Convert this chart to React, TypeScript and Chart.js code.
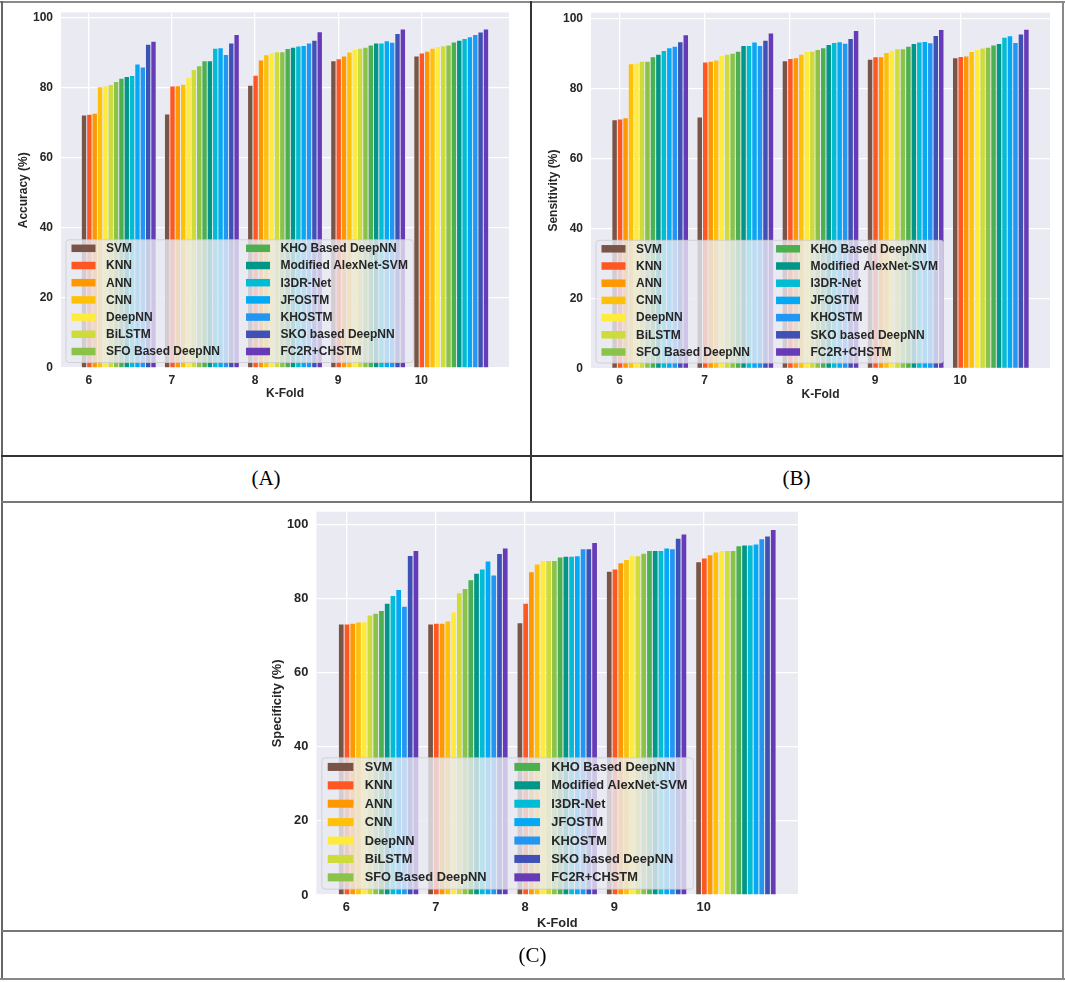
import React, { useEffect, useRef } from "react";
import { Chart, registerables } from "chart.js";

Chart.register(...registerables);

// ---------------- data ----------------
const FOLDS = [6, 7, 8, 9, 10];
const Y_TICKS = [0, 20, 40, 60, 80, 100];

const METHODS = [
  "SVM",
  "KNN",
  "ANN",
  "CNN",
  "DeepNN",
  "BiLSTM",
  "SFO Based DeepNN",
  "KHO Based DeepNN",
  "Modified AlexNet-SVM",
  "I3DR-Net",
  "JFOSTM",
  "KHOSTM",
  "SKO based DeepNN",
  "FC2R+CHSTM",
];

const COLORS = [
  "#795548",
  "#FF5722",
  "#FF9800",
  "#FFC107",
  "#FFEB3B",
  "#CDDC39",
  "#8BC34A",
  "#4CAF50",
  "#009688",
  "#00BCD4",
  "#03A9F4",
  "#2196F3",
  "#3F51B5",
  "#673AB7",
];

// Accuracy (%) per K-fold, one value per method (same order as METHODS)
const ACC_6 = [72.1, 72.3, 72.6, 80.2, 80.4, 80.8, 81.7, 82.6, 83.1, 83.4, 86.7, 85.8, 92.3, 93.2];
const ACC_7 = [72.4, 80.4, 80.5, 80.9, 82.8, 85.1, 86.2, 87.6, 87.6, 91.2, 91.3, 89.4, 92.7, 95.1];
const ACC_8 = [80.6, 83.5, 87.8, 89.3, 89.9, 90.2, 90.2, 91.1, 91.5, 91.8, 92.0, 92.7, 93.5, 95.9];
const ACC_9 = [87.6, 88.2, 89.0, 90.1, 90.9, 91.2, 91.5, 92.1, 92.7, 92.7, 93.3, 92.9, 95.4, 96.7];
const ACC_10 = [89.0, 89.8, 90.3, 91.2, 91.7, 91.9, 92.1, 93.0, 93.5, 94.0, 94.5, 95.1, 95.8, 96.7];

// Sensitivity (%)
const SEN_6 = [70.9, 71.1, 71.5, 86.9, 87.1, 87.6, 87.6, 88.9, 89.6, 90.7, 91.5, 91.9, 93.2, 95.2];
const SEN_7 = [71.7, 87.4, 87.6, 88.0, 89.3, 89.6, 89.9, 90.5, 92.1, 92.1, 93.1, 92.1, 93.6, 95.7];
const SEN_8 = [87.8, 88.4, 88.6, 89.6, 90.4, 90.5, 91.0, 91.5, 92.4, 93.0, 93.2, 92.8, 94.1, 96.4];
const SEN_9 = [88.2, 88.9, 88.9, 90.1, 90.8, 91.2, 91.2, 91.9, 92.7, 93.1, 93.3, 92.9, 95.0, 96.7];
const SEN_10 = [88.6, 89.0, 89.1, 90.4, 91.0, 91.4, 91.6, 92.3, 92.7, 94.5, 94.9, 93.0, 95.4, 96.8];

// Specificity (%)
const SPE_6 = [73.0, 73.0, 73.2, 73.5, 73.6, 75.4, 75.9, 76.6, 78.6, 80.7, 82.3, 77.8, 91.5, 92.8];
const SPE_7 = [73.0, 73.2, 73.2, 73.8, 76.3, 81.4, 82.6, 84.9, 86.7, 87.8, 90.0, 86.2, 92.0, 93.5];
const SPE_8 = [73.3, 78.6, 87.1, 89.2, 90.1, 90.1, 90.1, 91.1, 91.3, 91.3, 91.4, 93.3, 93.3, 95.0];
const SPE_9 = [87.2, 87.8, 89.5, 90.4, 91.4, 91.4, 92.1, 92.8, 92.8, 92.8, 93.5, 93.3, 96.1, 97.3];
const SPE_10 = [89.8, 90.8, 91.7, 92.4, 92.8, 92.8, 92.8, 94.1, 94.3, 94.3, 94.6, 96.0, 96.7, 98.5];

const ACCURACY = [ACC_6, ACC_7, ACC_8, ACC_9, ACC_10];
const SENSITIVITY = [SEN_6, SEN_7, SEN_8, SEN_9, SEN_10];
const SPECIFICITY = [SPE_6, SPE_7, SPE_8, SPE_9, SPE_10];

// ---------------- style ----------------
const FONT_FAMILY = '"Liberation Sans", Arial, Helvetica, sans-serif';
const TEXT_COLOR = "#262626";
const PLOT_BG = "#EAEAF2";
const GROUP_SHIFT = 0.36; // bar groups start just left of each fold tick
const X_MIN = 5.665;
const X_MAX = 11.055;

const plotBg = {
  id: "plotBg",
  beforeDraw(chart: any) {
    const { ctx, chartArea } = chart;
    ctx.save();
    ctx.fillStyle = PLOT_BG;
    ctx.fillRect(chartArea.left, chartArea.top, chartArea.right - chartArea.left, chartArea.bottom - chartArea.top);
    ctx.restore();
  },
};

function roundRectPath(ctx: CanvasRenderingContext2D, x: number, y: number, w: number, h: number, r: number) {
  ctx.beginPath();
  ctx.moveTo(x + r, y);
  ctx.lineTo(x + w - r, y);
  ctx.arcTo(x + w, y, x + w, y + r, r);
  ctx.lineTo(x + w, y + h - r);
  ctx.arcTo(x + w, y + h, x + w - r, y + h, r);
  ctx.lineTo(x + r, y + h);
  ctx.arcTo(x, y + h, x, y + h - r, r);
  ctx.lineTo(x, y + r);
  ctx.arcTo(x, y, x + r, y, r);
  ctx.closePath();
}

const innerLegend = {
  id: "innerLegend",
  afterDatasetsDraw(chart: any, _args: any, opts: any) {
    const s = opts.scale || 1;
    const { ctx, chartArea } = chart;
    const ds = chart.data.datasets;
    const rows = 7;
    const cols = Math.ceil(ds.length / rows);
    const fontSize = 12 * s;
    const handleW = 24 * s;
    const handleH = 7.5 * s;
    const padL = 5.5 * s;
    const padR = 5.5 * s;
    const textGap = 10.5 * s;
    const colGap = 26 * s;
    const pitch = 17.2 * s;
    const padTop = 8.5 * s;
    const padBottom = 11 * s;
    ctx.save();
    ctx.font = `bold ${fontSize}px ${FONT_FAMILY}`;
    const colW: number[] = [];
    for (let c = 0; c < cols; c++) {
      let w = 0;
      for (let r = 0; r < rows; r++) {
        const i = c * rows + r;
        if (i < ds.length) w = Math.max(w, ctx.measureText(String(ds[i].label)).width);
      }
      colW.push(w);
    }
    const boxW = padL + colW.reduce((a, w) => a + handleW + textGap + w, 0) + colGap * (cols - 1) + padR;
    const boxH = padTop + pitch * (rows - 1) + padBottom;
    const x0 = chartArea.left + 5 * s;
    const y0 = chartArea.bottom - 5.5 * s - boxH;
    roundRectPath(ctx, x0, y0, boxW, boxH, 3 * s);
    ctx.fillStyle = "rgba(234,234,242,0.8)";
    ctx.fill();
    ctx.strokeStyle = "rgba(204,204,204,0.8)";
    ctx.lineWidth = 1;
    ctx.stroke();
    ctx.textBaseline = "middle";
    ctx.textAlign = "left";
    let colX = x0 + padL;
    for (let c = 0; c < cols; c++) {
      for (let r = 0; r < rows; r++) {
        const i = c * rows + r;
        if (i >= ds.length) continue;
        const cy = y0 + padTop + r * pitch;
        ctx.fillStyle = ds[i].backgroundColor;
        ctx.fillRect(colX, cy - handleH / 2, handleW, handleH);
        ctx.fillStyle = TEXT_COLOR;
        ctx.fillText(String(ds[i].label), colX + handleW + textGap, cy + 0.5 * s);
      }
      colX += handleW + textGap + colW[c] + colGap;
    }
    ctx.restore();
  },
};

type PanelSpec = {
  yTitle: string;
  values: number[][];
  s: number;
  width: number;
  height: number;
  pad: { left: number; top: number; right: number; bottom: number };
  yAxisWidth: number;
  xAxisHeight: number;
  yTickPad: number;
  xTickPad: number;
};

function buildConfig(spec: PanelSpec): any {
  const fs = 12 * spec.s;
  const font = { family: FONT_FAMILY, size: fs, weight: "bold" as const };
  const all = spec.values.flat();
  const yMax = Math.max(...all) * 1.05;
  const datasets = METHODS.map((name, i) => ({
    label: name,
    backgroundColor: COLORS[i],
    borderWidth: 0,
    data: FOLDS.map((f, k) => ({ x: f + GROUP_SHIFT, y: spec.values[k][i] })),
  }));
  return {
    type: "bar",
    data: { datasets },
    options: {
      animation: false,
      responsive: false,
      maintainAspectRatio: false,
      layout: { padding: spec.pad },
      datasets: { bar: { categoryPercentage: 0.9, barPercentage: 0.82 } },
      plugins: {
        legend: { display: false },
        tooltip: { enabled: false },
        innerLegend: { scale: spec.s },
      },
      scales: {
        x: {
          type: "linear",
          min: X_MIN,
          max: X_MAX,
          offset: false,
          grid: { color: "#ffffff", lineWidth: 1.3, drawTicks: false, offset: false },
          border: { display: false },
          afterBuildTicks: (sc: any) => {
            sc.ticks = FOLDS.map((v) => ({ value: v }));
          },
          ticks: {
            padding: spec.xTickPad,
            font,
            color: TEXT_COLOR,
            autoSkip: false,
            maxRotation: 0,
            callback: (v: any) => String(v),
          },
          title: { display: true, text: "K-Fold", font, color: TEXT_COLOR, padding: { top: 0, bottom: 0 } },
          afterFit: (sc: any) => {
            sc.height = spec.xAxisHeight;
            sc.paddingLeft = 0;
            sc.paddingRight = 0;
          },
        },
        y: {
          type: "linear",
          min: 0,
          max: yMax,
          grid: { color: "#ffffff", lineWidth: 1.3, drawTicks: false },
          border: { display: false },
          afterBuildTicks: (sc: any) => {
            sc.ticks = Y_TICKS.map((v) => ({ value: v }));
          },
          ticks: {
            padding: spec.yTickPad,
            font,
            color: TEXT_COLOR,
            callback: (v: any) => String(v),
          },
          title: { display: true, text: spec.yTitle, font, color: TEXT_COLOR, padding: { top: 1, bottom: 0 } },
          afterFit: (sc: any) => {
            sc.width = spec.yAxisWidth;
            sc.paddingTop = 0;
            sc.paddingBottom = 0;
          },
        },
      },
    },
    plugins: [plotBg, innerLegend],
  };
}

function Panel({ spec, left, top }: { spec: PanelSpec; left: number; top: number }) {
  const ref = useRef<HTMLCanvasElement>(null);
  useEffect(() => {
    const chart = new Chart(ref.current as HTMLCanvasElement, buildConfig(spec));
    return () => chart.destroy();
  }, []);
  return (
    <canvas
      ref={ref}
      width={spec.width}
      height={spec.height}
      style={{ position: "absolute", left, top, width: spec.width, height: spec.height }}
    />
  );
}

const SPEC_A: PanelSpec = {
  yTitle: "Accuracy (%)",
  values: ACCURACY,
  s: 1,
  width: 530,
  height: 455,
  pad: { left: 15, top: 12.5, right: 21, bottom: 53.8 },
  yAxisWidth: 46,
  xAxisHeight: 33.2,
  yTickPad: 8,
  xTickPad: 5,
};

const SPEC_B: PanelSpec = {
  yTitle: "Sensitivity (%)",
  values: SENSITIVITY,
  s: 1,
  width: 535,
  height: 455,
  pad: { left: 15, top: 12.7, right: 15, bottom: 53.3 },
  yAxisWidth: 46,
  xAxisHeight: 33.2,
  yTickPad: 8,
  xTickPad: 5,
};

const SPEC_C: PanelSpec = {
  yTitle: "Specificity (%)",
  values: SPECIFICITY,
  s: 1.07,
  width: 1065,
  height: 440,
  pad: { left: 268.3, top: 9.7, right: 267, bottom: 10.8 },
  yAxisWidth: 48.2,
  xAxisHeight: 36.2,
  yTickPad: 8.2,
  xTickPad: 5,
};

function Line({ style }: { style: React.CSSProperties }) {
  return <div style={{ position: "absolute", pointerEvents: "none", ...style }} />;
}

function Caption({ text, left, top, width, height }: { text: string; left: number; top: number; width: number; height: number }) {
  return (
    <div
      style={{
        position: "absolute",
        left,
        top,
        width,
        height,
        display: "flex",
        alignItems: "center",
        justifyContent: "center",
        fontFamily: '"Liberation Serif", "Times New Roman", serif',
        fontSize: 21,
        color: "#000",
      }}
    >
      {text}
    </div>
  );
}

export default function App() {
  return (
    <div
      style={{
        position: "absolute",
        left: 0,
        top: 0,
        width: 1065,
        height: 982,
        background: "#ffffff",
        overflow: "hidden",
      }}
    >
      <Panel spec={SPEC_A} left={0} top={0} />
      <Panel spec={SPEC_B} left={530} top={0} />
      <Panel spec={SPEC_C} left={0} top={502} />

      <Caption text="(A)" left={2} top={456} width={528} height={44} />
      <Caption text="(B)" left={531} top={456} width={531} height={44} />
      <Caption text="(C)" left={0} top={932} width={1065} height={46} />

      {/* table borders */}
      <Line style={{ left: 0, top: 1, width: 1065, height: 2, background: "#8a8a8a" }} />
      <Line style={{ left: 1, top: 1, width: 1.5, height: 979, background: "#666" }} />
      <Line style={{ left: 1062, top: 1, width: 2, height: 979, background: "#888" }} />
      <Line style={{ left: 0, top: 978, width: 1065, height: 2, background: "#888" }} />
      <Line style={{ left: 1, top: 455, width: 1062, height: 1.5, background: "#333" }} />
      <Line style={{ left: 1, top: 500.5, width: 1062, height: 2, background: "#777" }} />
      <Line style={{ left: 1, top: 930, width: 1062, height: 2, background: "#777" }} />
      <Line style={{ left: 530, top: 1, width: 1.5, height: 500, background: "#333" }} />
    </div>
  );
}
